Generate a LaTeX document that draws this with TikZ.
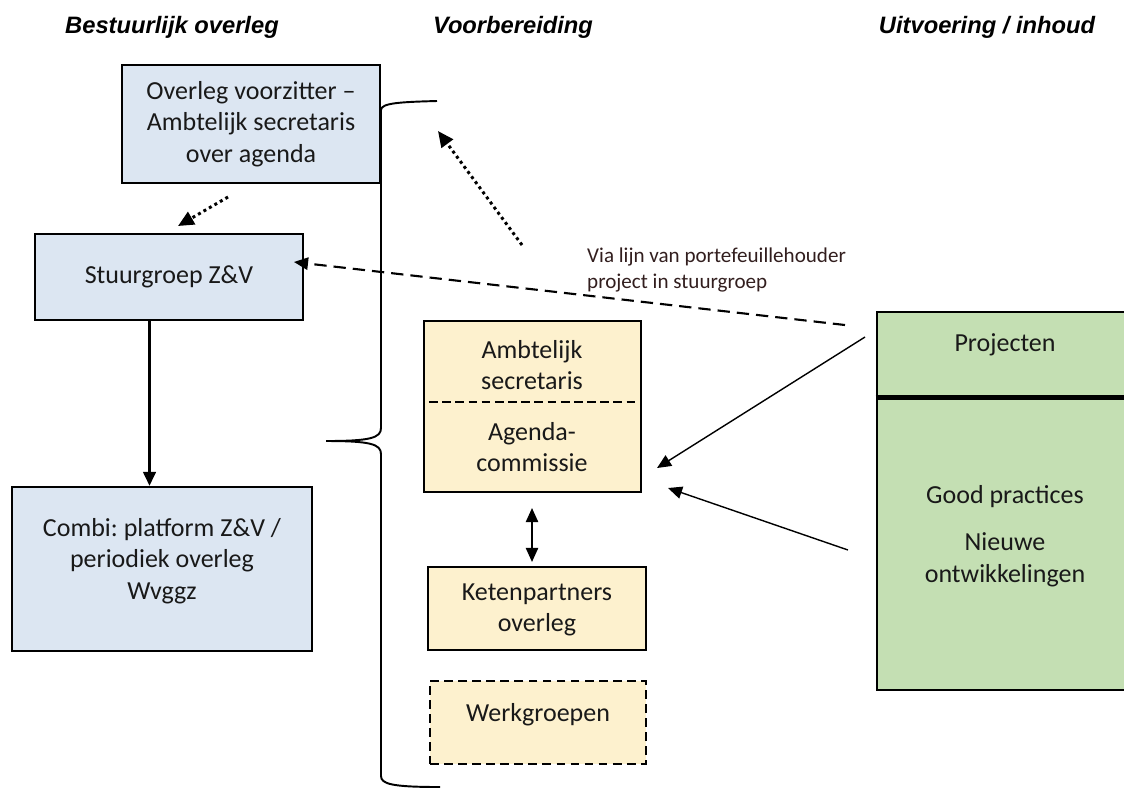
\documentclass[tikz,border=0pt]{standalone}
\usepackage{fontspec}
\setmainfont{Carlito}
\newfontfamily\kopfont{Liberation Sans}
\usetikzlibrary{arrows.meta,calc}
\frenchspacing
\definecolor{blauw}{RGB}{220,230,242}
\definecolor{geel}{RGB}{253,241,206}
\definecolor{groen}{RGB}{196,223,179}
\definecolor{viakleur}{RGB}{50,30,30}
\tikzset{
	kop/.style={font=\kopfont\bfseries\itshape\fontsize{13.5}{16}\selectfont},
	tekst/.style={align=center, text=black!90, font=\fontsize{14.8}{18}\selectfont},
	vak/.style={draw=black, line width=1.2pt, tekst, inner sep=0pt},
	blauwvak/.style={vak, fill=blauw},
	geelvak/.style={vak, fill=geel},
	pijl/.style={-{Triangle[length=8pt,width=7pt]}, line width=0.8pt},
	stippel/.style={-{Triangle[length=9pt,width=8pt]}, line width=1.7pt, dash pattern=on 1.7pt off 1.9pt},
}

\begin{document}
\begin{tikzpicture}[x=0.02cm, y=-0.02cm]
		%%%%% START %%%%%
		\useasboundingbox (0,0) rectangle (1124,789);
		
		% kolomkoppen
		\node[kop] (kop1) at (172,27) {Bestuurlijk overleg};
		\node[kop] (kop2) at (513,27) {Voorbereiding};
		\node[kop] (kop3) at (987,27) {Uitvoering / inhoud};
		
		% bestuurlijk overleg
		\node[blauwvak, minimum width=5.16cm, minimum height=2.36cm] (overleg) at (251,124) {Overleg voorzitter --\\Ambtelijk secretaris\\over agenda};
		\node[blauwvak, minimum width=5.36cm, minimum height=1.72cm] (stuur) at (169,277) {Stuurgroep Z\&V};
		\node[blauwvak, minimum width=6.0cm, minimum height=3.28cm] (combi) at (162,569) {};
		\node[tekst] (combitekst) at (162,561) {Combi: platform Z\&V /\\periodiek overleg\\Wvggz};
		
		\draw[-{Triangle[length=8pt,width=7pt]}, line width=1.8pt] ([xshift=-0.39cm]stuur.south) -- ([xshift=-0.39cm]stuur.south |- combi.north);
		
		\coordinate (stip1a) at (228,197);
		\coordinate (stip1b) at (178,226);
		\draw[stippel] (stip1a) -- (stip1b);
		
		% accolade
		\draw[line width=1.1pt] (437,101) .. controls (400,102) and (381,103) .. (381,110) -- (381,428) .. controls (381,438) and (370,441) .. (326,441);
		\draw[line width=1.1pt] (326,441) .. controls (370,441) and (381,444) .. (381,454) -- (381,776) .. controls (381,784) and (392,787) .. (440,787);
		
		\coordinate (stip2a) at (522,245);
		\coordinate (stip2b) at (438,131);
		\draw[stippel] (stip2a) -- (stip2b);
		
		% voorbereiding
		\node[geelvak, minimum width=4.34cm, minimum height=3.42cm] (agenda) at (532.5,406.5) {};
		\node[tekst] (secr) at (532,365) {Ambtelijk\\secretaris};
		\node[tekst] (acom) at (532,447) {Agenda-\\commissie};
		\draw[line width=1.2pt, dash pattern=on 5pt off 2.5pt] ($(agenda.west)+(6,-4.5)$) -- ($(agenda.east)+(-4,-4.5)$);
		
		\node[geelvak, minimum width=4.36cm, minimum height=1.66cm] (keten) at (537,608.5) {};
		\node[tekst] (ketentekst) at (537,610) {Ketenpartners\\overleg};
		\node[geelvak, dash pattern=on 5pt off 3pt, minimum width=4.32cm, minimum height=1.66cm] (werk) at (538,722.5) {};
		\node[tekst] (werktekst) at (538,715) {Werkgroepen};
		
		\draw[{Triangle[length=8pt,width=7pt]}-{Triangle[length=8pt,width=7pt]}, line width=0.9pt] ([xshift=-0.01cm,yshift=-0.3cm]agenda.south) -- ([xshift=-0.1cm,yshift=0.08cm]keten.north);
		
		% uitvoering / inhoud
		\node[draw=black, line width=1.6pt, fill=groen, minimum width=5.3cm, minimum height=7.56cm] (uitv) at (1009.5,501) {};
		\draw[line width=3.2pt] ($(uitv.north west)+(0,87)$) -- ($(uitv.north east)+(0,87)$);
		\node[tekst] (proj) at (1005,345) {Projecten};
		\node[tekst] (good) at (1005,536) {Good practices\\[9pt]Nieuwe\\ontwikkelingen};
		
		\coordinate (via1) at (845,325);
		\coordinate (via2) at (294,262);
		\draw[pijl, line width=1.2pt, dash pattern=on 7pt off 4pt] (via1) -- (via2);
		\node[anchor=west, align=left, text=viakleur, font=\fontsize{12}{14.7}\selectfont] (via) at (581,270) {Via lijn van portefeuillehouder\\project in stuurgroep};
		
		\coordinate (proj1) at (865,337);
		\coordinate (proj2) at (657,468);
		\draw[pijl] (proj1) -- (proj2);
		\coordinate (good1) at (848,550);
		\coordinate (good2) at (668,488);
		\draw[pijl] (good1) -- (good2);
		%%%%% END %%%%%
	\end{tikzpicture}
\end{document}
